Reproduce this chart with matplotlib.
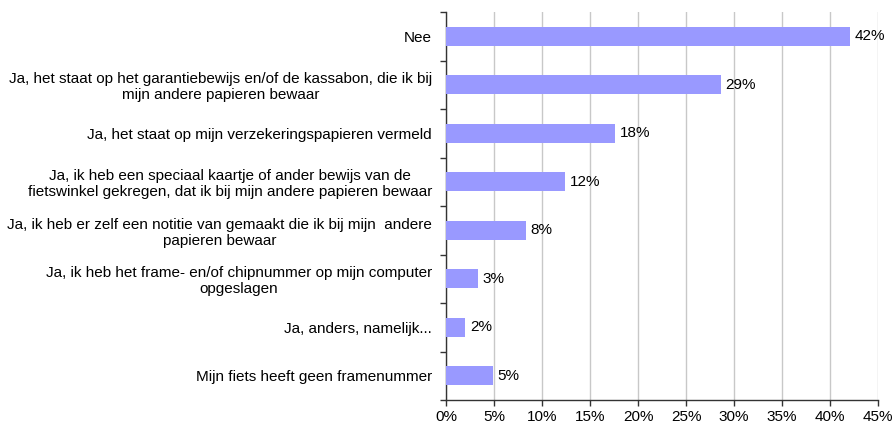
import numpy as np
import matplotlib.pyplot as plt

categories = [
    "Nee",
    "Ja, het staat op het garantiebewijs en/of de kassabon, die ik bij\nmijn andere papieren bewaar",
    "Ja, het staat op mijn verzekeringspapieren vermeld",
    "Ja, ik heb een speciaal kaartje of ander bewijs van de\nfietswinkel gekregen, dat ik bij mijn andere papieren bewaar",
    "Ja, ik heb er zelf een notitie van gemaakt die ik bij mijn  andere\npapieren bewaar",
    "Ja, ik heb het frame- en/of chipnummer op mijn computer\nopgeslagen",
    "Ja, anders, namelijk...",
    "Mijn fiets heeft geen framenummer",
]
values = [42.1, 28.6, 17.6, 12.4, 8.3, 3.3, 2.0, 4.9]
xticks = [0, 5, 10, 15, 20, 25, 30, 35, 40, 45]

plt.rcParams['font.family'] = ['Liberation Sans', 'DejaVu Sans']
plt.rcParams['font.size'] = 11

fig = plt.figure(figsize=(8.94, 4.25), dpi=100)
ax = fig.add_axes([446/894, 25/425, 432/894, 388/425])

n = len(categories)
y = np.arange(n)
ax.barh(y, values, height=0.4, color='#9999FF', zorder=3)
for yi, v in zip(y, values):
    ax.text(v + 0.5, yi, f"{v:.0f}%", va='center', ha='left', fontsize=11, zorder=4)

ax.set_ylim(n - 0.5, -0.5)
ax.set_xlim(0, 45)
ax.set_xticks(xticks)
ax.set_xticklabels([f"{t}%" for t in xticks])
ax.set_yticks(y)
ax.set_yticklabels(categories, multialignment='center')
ax.set_yticks(np.arange(n + 1) - 0.5, minor=True)
ax.tick_params(axis='y', which='major', length=0, pad=10)
ax.tick_params(axis='y', which='minor', length=4, width=1, color='#333333')
ax.tick_params(axis='x', length=4, width=1, color='#333333', pad=3)
ax.xaxis.grid(True, color='#c8c8c8', linewidth=1, zorder=0)
for s in ['top', 'right']:
    ax.spines[s].set_visible(False)
for s in ['left', 'bottom']:
    ax.spines[s].set_color('#333333')
    ax.spines[s].set_linewidth(1)

fig.savefig('out.png', dpi=100)
